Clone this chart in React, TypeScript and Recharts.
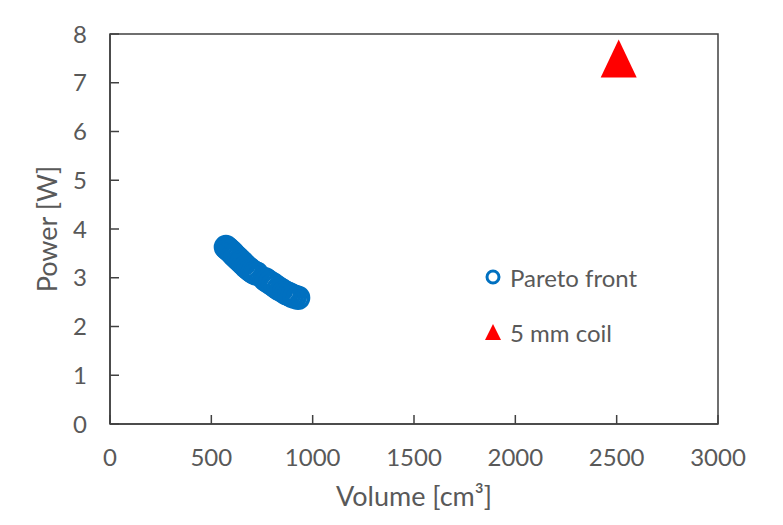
import { ScatterChart, Scatter, XAxis, YAxis, ReferenceArea } from 'recharts';

// Pareto front designs (volume in cm³, power in W)
const paretoVolume = [572, 580, 588, 596, 604, 612, 620, 630, 640, 650, 660, 672, 684, 695, 705, 715, 725, 765, 775, 790, 805, 818, 832, 845, 860, 872, 885, 898, 912, 928];
const paretoPower = [3.63, 3.6, 3.57, 3.54, 3.51, 3.47, 3.44, 3.4, 3.36, 3.32, 3.28, 3.23, 3.19, 3.15, 3.12, 3.1, 3.08, 2.97, 2.94, 2.9, 2.86, 2.82, 2.78, 2.75, 2.71, 2.68, 2.66, 2.63, 2.61, 2.59];

// reference 5 mm coil
const coilVolume = [2510];
const coilPower = [7.5];

const xTicks = [0, 500, 1000, 1500, 2000, 2500, 3000];
const yTicks = [0, 1, 2, 3, 4, 5, 6, 7, 8];

const paretoData = paretoVolume.map((v, i) => ({ volume: v, power: paretoPower[i] }));
const coilData = coilVolume.map((v, i) => ({ volume: v, power: coilPower[i] }));

const BLUE = '#0070C0';
const RED = '#FF0000';
const AXIS = '#404040';
const TEXT = '#595959';
const FONT = 'Lato, "Open Sans", sans-serif';

const tickStyle = { fontSize: 24, fill: TEXT, fontFamily: FONT };
const titleStyle = { fontSize: 27, fill: TEXT, fontFamily: FONT };

function RingShape(props: any) {
  return <circle cx={props.cx} cy={props.cy} r={10.5} fill="none" stroke={BLUE} strokeWidth={3.5} />;
}

function TriangleShape(props: any) {
  const { cx, cy } = props;
  return <polygon points={`${cx},${cy - 19} ${cx - 18},${cy + 19} ${cx + 18},${cy + 19}`} fill={RED} />;
}

function ChartLegend() {
  return (
    <div style={{ position: 'absolute', left: 483, top: 261, fontFamily: FONT, fontSize: 24, color: TEXT }}>
      <div style={{ display: 'flex', alignItems: 'center', height: 32 }}>
        <svg width={22} height={20} style={{ marginRight: 5 }}>
          <circle cx={10} cy={10} r={6} fill="none" stroke={BLUE} strokeWidth={3} />
        </svg>
        <span>Pareto front</span>
      </div>
      <div style={{ display: 'flex', alignItems: 'center', height: 32, marginTop: 23 }}>
        <svg width={22} height={20} style={{ marginRight: 5 }}>
          <polygon points="10,2 2,18 18,18" fill={RED} />
        </svg>
        <span>5 mm coil</span>
      </div>
    </div>
  );
}

export default function App() {
  return (
    <div style={{ position: 'absolute', left: 0, top: 0, width: 783, height: 525, background: '#fff' }}>
      <ScatterChart width={783} height={525} margin={{ top: 34, right: 65, left: 0, bottom: 0 }}>
        <XAxis
          type="number"
          dataKey="volume"
          domain={[0, 3000]}
          ticks={xTicks}
          height={101}
          tick={tickStyle}
          tickSize={-9}
          tickMargin={34}
          stroke={AXIS}
          strokeWidth={1.5}
          label={{ value: 'Volume [cm³]', position: 'insideBottom', offset: 19, style: titleStyle }}
        />
        <YAxis
          type="number"
          dataKey="power"
          domain={[0, 8]}
          ticks={yTicks}
          width={110}
          tick={tickStyle}
          tickSize={-9}
          tickMargin={32}
          stroke={AXIS}
          strokeWidth={1.5}
          label={{ value: 'Power [W]', angle: -90, position: 'insideLeft', offset: 47, style: { ...titleStyle, textAnchor: 'middle' } }}
        />
        <ReferenceArea x1={0} x2={3000} y1={0} y2={8} fill="none" stroke={AXIS} strokeWidth={1.5} />
        <Scatter name="Pareto front" data={paretoData} shape={<RingShape />} isAnimationActive={false} />
        <Scatter name="5 mm coil" data={coilData} shape={<TriangleShape />} isAnimationActive={false} />
      </ScatterChart>
      <ChartLegend />
    </div>
  );
}
